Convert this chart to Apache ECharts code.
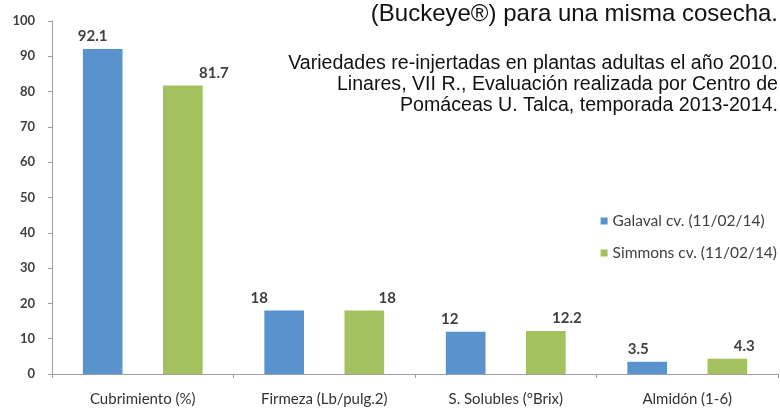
<!DOCTYPE html>
<html>
<head>
<meta charset="utf-8">
<script src="https://cdn.jsdelivr.net/npm/echarts@6/dist/echarts.min.js"></script>
<style>
    html, body { margin: 0; padding: 0; background: #fff; }
    #chart { width: 780px; height: 411px; }
</style>
</head>
<body>
<div id="chart"></div>
<script>
// datos
var categorias = ['Cubrimiento (%)', 'Firmeza (Lb/pulg.2)', 'S. Solubles (°Brix)', 'Almidón (1-6)'];
var galaval = [92.1, 18, 12, 3.5];
var simmons = [81.7, 18, 12.2, 4.3];
var nombres = ['Galaval cv. (11/02/14)', 'Simmons cv. (11/02/14)'];

var titulo = '(Buckeye®) para una misma cosecha.';
var notas = [
    'Variedades re-injertadas en plantas adultas el año 2010.',
    'Linares, VII R., Evaluación realizada por Centro de',
    'Pomáceas U. Talca, temporada 2013-2014.'
];

// desplazamiento horizontal de las etiquetas (movidas a mano en el original)
var despGalaval = [-10, -25, -16, -9];
var despSimmons = [31, 23, 21, 17];

function conEtiquetas(valores, desp) {
    return valores.map(function (v, i) {
        return { value: v, label: { offset: [desp[i], 0] } };
    });
}

var myChart = echarts.init(document.getElementById('chart'));

var etiqueta = {
    show: true,
    position: 'top',
    distance: 5,
    fontFamily: 'Lato',
    fontSize: 15,
    fontWeight: 'bold',
    color: '#404040'
};

// titulo + notas, cada linea alineada a la derecha
var titulos = [{
    text: titulo,
    right: -3,
    top: -3,
    textStyle: {
        fontFamily: 'Liberation Sans',
        fontSize: 24,
        fontWeight: 'normal',
        color: '#111'
    }
}];
notas.forEach(function (t, i) {
    titulos.push({
        text: t,
        right: -3,
        top: 49 + i * 21,
        textStyle: {
            fontFamily: 'Liberation Sans',
            fontSize: 19.6,
            fontWeight: 'normal',
            color: '#111'
        }
    });
});

var option = {
    animation: false,
    title: titulos,
    legend: {
        orient: 'vertical',
        right: -2,
        top: 208,
        itemWidth: 7,
        itemHeight: 7,
        itemGap: 16,
        icon: 'rect',
        data: nombres,
        textStyle: {
            fontFamily: 'Lato',
            fontSize: 15.5,
            color: '#404040'
        }
    },
    grid: {
        left: 52,
        right: 2,
        top: 21,
        bottom: 37,
        containLabel: false
    },
    xAxis: {
        type: 'category',
        data: categorias,
        axisLine: { lineStyle: { color: '#a0a0a0' } },
        axisTick: { show: true, length: 4, lineStyle: { color: '#a0a0a0' } },
        axisLabel: {
            margin: 18,
            fontFamily: 'Lato',
            fontSize: 15,
            color: '#333'
        }
    },
    yAxis: {
        type: 'value',
        min: 0,
        max: 100,
        interval: 10,
        splitLine: { show: false },
        axisLine: { show: true, lineStyle: { color: '#a0a0a0' } },
        axisTick: { show: true, length: 4, lineStyle: { color: '#a0a0a0' } },
        axisLabel: {
            margin: 17,
            fontFamily: 'Lato',
            fontSize: 13,
            fontWeight: 'bold',
            color: '#404040'
        }
    },
    series: [
        {
            name: nombres[0],
            type: 'bar',
            data: conEtiquetas(galaval, despGalaval),
            barGap: '102%',
            barCategoryGap: '34%',
            itemStyle: { color: '#5893cd' },
            label: etiqueta
        },
        {
            name: nombres[1],
            type: 'bar',
            data: conEtiquetas(simmons, despSimmons),
            itemStyle: { color: '#a3c15f' },
            label: etiqueta
        }
    ]
};

myChart.setOption(option);
</script>
</body>
</html>
